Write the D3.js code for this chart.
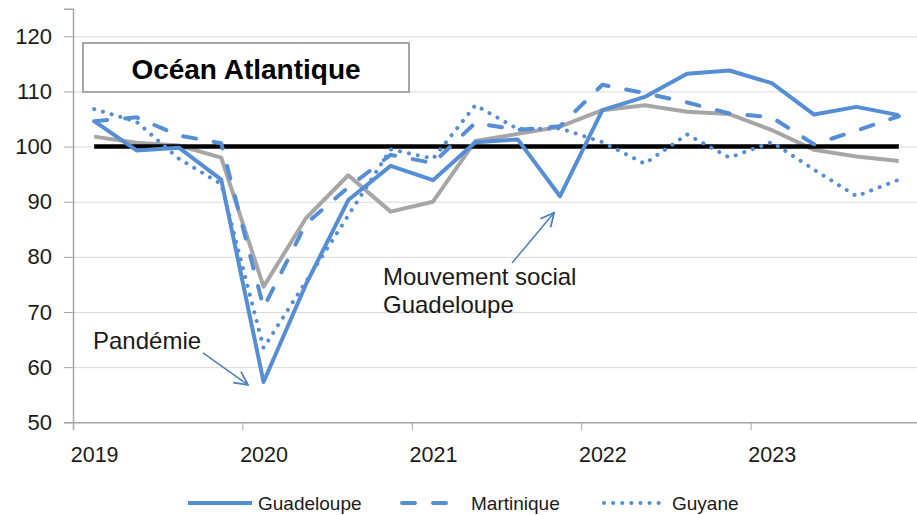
<!DOCTYPE html>
<html>
<head>
<meta charset="utf-8">
<script src="https://cdn.jsdelivr.net/npm/d3@7"></script>
<style>
  body { margin: 0; background: #fff; }
  svg { display: block; }
</style>
</head>
<body>
<svg></svg>
<script>
// quarterly index (base 100), 2019 T1 -> 2023 T4
var quarters = ["2019T1","2019T2","2019T3","2019T4","2020T1","2020T2","2020T3","2020T4",
                "2021T1","2021T2","2021T3","2021T4","2022T1","2022T2","2022T3","2022T4",
                "2023T1","2023T2","2023T3","2023T4"];
var guadeloupe = [104.6, 99.3, 99.8, 94.0, 57.3, 75.0, 90.3, 96.5, 93.9, 100.8,
                  101.3, 91.0, 106.6, 109.0, 113.2, 113.8, 111.5, 105.8, 107.2, 105.7];
var martinique = [104.6, 105.3, 102.0, 100.6, 70.8, 86.0, 92.6, 98.5, 97.0, 104.3,
                  103.0, 103.7, 111.2, 109.7, 108.0, 106.0, 105.3, 100.4, 102.9, 105.5];
var guyane = [106.8, 104.5, 97.8, 93.2, 63.5, 75.5, 87.5, 99.5, 97.8, 107.5,
              103.2, 103.3, 100.8, 96.9, 102.2, 98.0, 100.8, 95.8, 91.0, 94.0];
var oceanAtlantique = [101.8, 100.7, 100.2, 98.0, 74.6, 87.0, 94.8, 88.2, 90.0, 101.0,
                       102.3, 103.6, 106.6, 107.5, 106.3, 105.9, 103.0, 99.4, 98.2, 97.4];
var base = 100;

var yearTicks = [2019, 2020, 2021, 2022, 2023];
var yTicks = [50, 60, 70, 80, 90, 100, 110, 120];
var title = "Océan Atlantique";
var legendNames = ["Guadeloupe", "Martinique", "Guyane"];

// annotations, in data units (year, index)
var annotPandemie = { text: ["Pandémie"], at: [2019.118, 63.3], from: [2019.767, 62.6], to: [2020.033, 56.8] };
var annotSocial = { text: ["Mouvement social", "Guadeloupe"], at: [2020.83, 74.9], from: [2021.592, 78.9], to: [2021.84, 88.0] };

var blue = "#558ed5";
var grey = "#a6a6a6";

// quarter label -> position in years (middle of the quarter)
function quarterPos(q) {
    var year = +q.slice(0, 4);
    var n = +q.slice(5);
    return year + (n - 1) / 4 + 1 / 8;
}

function makeSeries(values) {
    return values.map(function(v, i) { return { t: quarterPos(quarters[i]), value: v }; });
}

var svgWidth = 917, svgHeight = 515;
var svg = d3.select("svg")
    .attr("width", svgWidth)
    .attr("height", svgHeight)
    .style("font-family", "'Liberation Sans', Arial, sans-serif");

var x = d3.scaleLinear().domain([2019, 2024]).range([73, 920]);
var y = d3.scaleLinear().domain([50, 125]).range([422.3, 8.7]);

// horizontal gridlines
svg.append("g")
    .attr("transform", "translate(73,0)")
    .call(d3.axisLeft(y).tickValues(yTicks.slice(1)).tickSize(-(svgWidth - 73)).tickFormat(""))
    .call(function(g) {
        g.select(".domain").remove();
        g.selectAll("line").attr("stroke", "#d9d9d9").attr("stroke-width", 1);
    });

// y axis
svg.append("g")
    .attr("transform", "translate(73,0)")
    .call(d3.axisLeft(y).tickValues(yTicks).tickSize(9).tickPadding(12).tickFormat(d3.format("d")))
    .call(function(g) {
        g.select(".domain").attr("stroke", "#a6a6a6").attr("stroke-width", 1.5);
        g.selectAll("line").attr("stroke", "#a6a6a6");
        g.selectAll("text").attr("fill", "#1a1a1a").style("font-size", "22px")
            .style("font-family", "'Liberation Sans', Arial, sans-serif");
    });

// x axis: tick marks at year boundaries
svg.append("g")
    .attr("transform", "translate(0," + y(50) + ")")
    .call(d3.axisBottom(x).tickValues(yearTicks.slice(1)).tickSize(8).tickFormat(""))
    .call(function(g) {
        g.select(".domain").attr("stroke", "#a6a6a6").attr("stroke-width", 1.5);
        g.selectAll("line").attr("stroke", "#a6a6a6");
    });

// x labels, centred on first quarter of each year
svg.append("g")
    .attr("transform", "translate(0," + y(50) + ")")
    .call(d3.axisBottom(x).tickValues(yearTicks.map(function(d) { return d + 0.125; }))
        .tickSize(0).tickPadding(24).tickFormat(function(d) { return Math.floor(d); }))
    .call(function(g) {
        g.select(".domain").remove();
        g.selectAll("text").attr("fill", "#1a1a1a").style("font-size", "21.5px")
            .style("font-family", "'Liberation Sans', Arial, sans-serif");
    });

var line = d3.line()
    .x(function(d) { return x(d.t); })
    .y(function(d) { return y(d.value); });

// grey aggregate
svg.append("path")
    .datum(makeSeries(oceanAtlantique))
    .attr("fill", "none")
    .attr("stroke", grey)
    .attr("stroke-width", 4)
    .attr("stroke-linejoin", "round")
    .attr("d", line);

// base 100
svg.append("path")
    .datum(makeSeries(quarters.map(function() { return base; })))
    .attr("fill", "none")
    .attr("stroke", "#000")
    .attr("stroke-width", 4.5)
    .attr("d", line);

var styles = [
    { values: guadeloupe, dash: null },
    { values: martinique, dash: "13,18" },
    { values: guyane, dash: "0.1,9" }
];

// Guyane, Martinique, then Guadeloupe on top
styles.slice().reverse().forEach(function(s) {
    svg.append("path")
        .datum(makeSeries(s.values))
        .attr("fill", "none")
        .attr("stroke", blue)
        .attr("stroke-width", 4)
        .attr("stroke-linejoin", "round")
        .attr("stroke-linecap", s.dash ? "round" : "butt")
        .attr("stroke-dasharray", s.dash)
        .attr("d", line);
});

// title box
var tbox = svg.append("g");
tbox.append("rect")
    .attr("x", 83).attr("y", 43)
    .attr("width", 326).attr("height", 49)
    .attr("fill", "#fff")
    .attr("stroke", "#a6a6a6")
    .attr("stroke-width", 2);
tbox.append("text")
    .attr("x", 246).attr("y", 79)
    .attr("text-anchor", "middle")
    .style("font-size", "28px")
    .style("font-weight", "bold")
    .attr("fill", "#000")
    .text(title);

// arrow marker
svg.append("defs").append("marker")
    .attr("id", "arrow")
    .attr("viewBox", "0 0 12 12")
    .attr("refX", 11).attr("refY", 6)
    .attr("markerWidth", 16).attr("markerHeight", 16)
    .attr("markerUnits", "userSpaceOnUse")
    .attr("orient", "auto")
    .append("path")
    .attr("d", "M1,1 L11,6 L1,11")
    .attr("fill", "none")
    .attr("stroke", "#4a7ebb")
    .attr("stroke-width", 1.3);

[annotPandemie, annotSocial].forEach(function(a) {
    svg.append("line")
        .attr("x1", x(a.from[0])).attr("y1", y(a.from[1]))
        .attr("x2", x(a.to[0])).attr("y2", y(a.to[1]))
        .attr("stroke", "#4a7ebb")
        .attr("stroke-width", 1.5)
        .attr("marker-end", "url(#arrow)");
    var t = svg.append("text")
        .attr("x", x(a.at[0])).attr("y", y(a.at[1]))
        .attr("fill", "#1a1a1a")
        .style("font-size", "24px");
    a.text.forEach(function(s, i) {
        t.append("tspan").attr("x", x(a.at[0])).attr("dy", i ? 28 : 0).text(s);
    });
});

// legend
var legendPos = [
    { x1: 188, x2: 252, tx: 258 },
    { x1: 402, x2: 458, tx: 471 },
    { x1: 604, x2: 662, tx: 672 }
];
var legend = svg.append("g");
legendNames.forEach(function(name, i) {
    legend.append("line")
        .attr("x1", legendPos[i].x1).attr("x2", legendPos[i].x2)
        .attr("y1", 503).attr("y2", 503)
        .attr("stroke", blue)
        .attr("stroke-width", 4)
        .attr("stroke-linecap", styles[i].dash ? "round" : "butt")
        .attr("stroke-dasharray", styles[i].dash);
    legend.append("text")
        .attr("x", legendPos[i].tx).attr("y", 509.5)
        .attr("fill", "#1a1a1a")
        .style("font-size", "19px")
        .text(name);
});
</script>
</body>
</html>
